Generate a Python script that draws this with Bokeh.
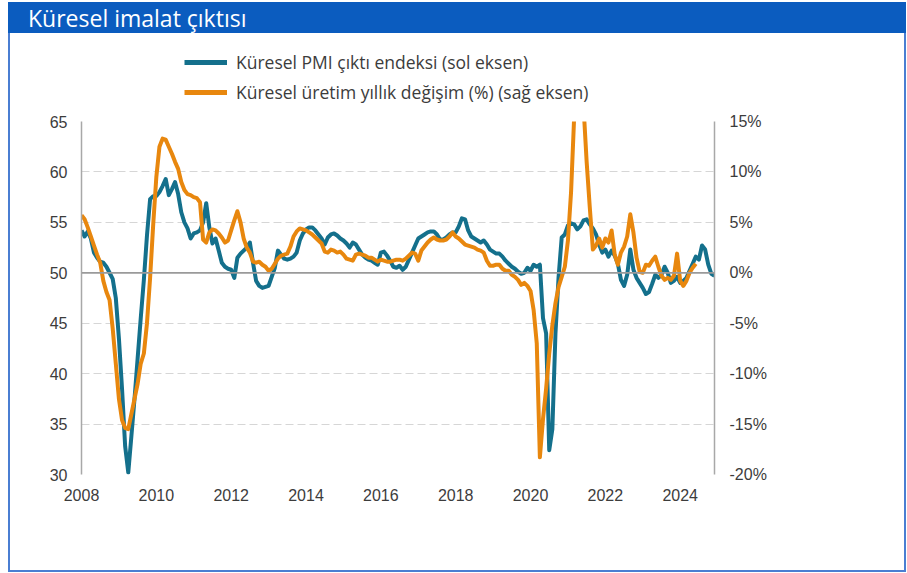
import numpy as np
from bokeh.plotting import figure
from bokeh.models import (Range1d, LinearAxis, FixedTicker, PrintfTickFormatter,
                          Span, Legend, LegendItem, Div, Spacer)
from bokeh.layouts import column, row
from bokeh.embed import file_html
from bokeh.resources import INLINE

# ---- Data (monthly, from Jan 2008) ----
title_text = "Küresel imalat çıktısı"
label_pmi = "Küresel PMI çıktı endeksi (sol eksen)"
label_prod = "Küresel üretim yıllık değişim (%) (sağ eksen)"
year_ticks = [2008, 2010, 2012, 2014, 2016, 2018, 2020, 2022, 2024]
left_ticks = [30, 35, 40, 45, 50, 55, 60, 65]
right_ticks = [-20, -15, -10, -5, 0, 5, 10, 15]

pmi_2008 = [54.2, 53.6, 54.1, 53.4, 52.0, 51.5, 51.1, 51.0, 50.6, 50.0, 49.4, 47.5]
pmi_2009 = [43.5, 38.5, 32.8, 30.2, 33.8, 37.5, 41.5, 45.5, 49.3, 53.7, 57.3, 57.6]
pmi_2010 = [57.6, 58.0, 58.6, 59.3, 57.7, 58.3, 59.0, 57.8, 56.0, 55.0, 54.4, 53.4]
pmi_2011 = [53.9, 54.0, 54.2, 55.0, 56.9, 54.5, 52.9, 53.4, 52.2, 51.0, 50.6, 50.4]
pmi_2012 = [50.3, 49.5, 51.5, 51.9, 52.2, 52.5, 53.0, 51.0, 49.2, 48.7, 48.5, 48.6]
pmi_2013 = [48.7, 49.6, 50.5, 52.2, 51.8, 51.4, 51.3, 51.4, 51.6, 52.0, 53.2, 53.9]
pmi_2014 = [54.3, 54.5, 54.5, 54.2, 53.8, 53.4, 52.8, 53.5, 53.8, 53.9, 53.7, 53.4]
pmi_2015 = [53.2, 52.9, 52.5, 53.0, 52.8, 52.3, 51.8, 51.5, 51.3, 51.2, 51.0, 50.8]
pmi_2016 = [52.0, 52.1, 51.7, 51.2, 50.6, 50.5, 50.7, 50.3, 50.6, 51.3, 52.0, 52.7]
pmi_2017 = [53.4, 53.6, 53.8, 54.0, 54.1, 54.1, 53.8, 53.3, 53.3, 53.5, 53.8, 54.0]
pmi_2018 = [54.0, 54.6, 55.4, 55.3, 54.2, 53.6, 53.4, 53.2, 53.0, 53.2, 52.8, 52.3]
pmi_2019 = [52.1, 51.9, 51.9, 51.6, 51.2, 50.9, 50.6, 50.4, 50.1, 49.9, 50.0, 50.5]
pmi_2020 = [50.2, 50.8, 50.6, 50.8, 45.5, 44.0, 32.4, 34.5, 44.0, 49.6, 53.5, 53.8]
pmi_2021 = [54.7, 54.9, 54.8, 54.3, 54.6, 55.2, 55.3, 54.8, 54.4, 53.8, 52.8, 52.0]
pmi_2022 = [52.3, 51.6, 52.2, 51.7, 50.9, 49.3, 48.7, 49.8, 52.3, 50.3, 49.5, 49.0]
pmi_2023 = [48.5, 47.9, 48.1, 48.9, 49.8, 49.5, 49.8, 50.6, 50.0, 49.0, 49.2, 49.6]
pmi_2024 = [49.0, 49.2, 49.5, 50.2, 50.9, 51.6, 51.3, 52.7, 52.3, 50.8, 49.9, 49.7]

prod_2008 = [5.7, 5.3, 4.5, 3.6, 2.7, 1.8, 1.0, -0.8, -1.9, -2.7, -5.5, -9.0]
prod_2009 = [-12.5, -14.6, -15.4, -15.5, -14.0, -12.5, -11.0, -9.0, -8.0, -5.0, -0.5, 4.8]
prod_2010 = [9.5, 12.5, 13.3, 13.2, 12.5, 11.8, 11.0, 10.3, 9.0, 8.2, 7.8, 7.7]
prod_2011 = [7.5, 7.4, 7.0, 3.3, 3.0, 4.0, 4.3, 4.2, 3.9, 3.5, 3.0, 3.2]
prod_2012 = [4.2, 5.2, 6.1, 5.0, 3.4, 2.5, 2.0, 1.1, 1.0, 1.1, 0.8, 0.6]
prod_2013 = [0.2, 0.4, 0.9, 1.4, 1.7, 1.8, 1.9, 2.6, 3.6, 4.1, 4.4, 4.3]
prod_2014 = [4.2, 4.0, 3.8, 3.5, 3.2, 2.9, 2.1, 2.0, 2.3, 2.2, 2.0, 2.1]
prod_2015 = [1.8, 1.4, 1.3, 1.2, 1.8, 1.9, 1.8, 1.7, 1.5, 1.5, 1.3, 1.1]
prod_2016 = [1.3, 1.2, 1.1, 1.1, 1.2, 1.3, 1.3, 1.2, 1.4, 1.7, 2.0, 1.9]
prod_2017 = [1.2, 2.2, 2.6, 3.0, 3.3, 3.5, 3.3, 3.2, 3.2, 3.3, 3.6, 4.0]
prod_2018 = [3.6, 3.4, 3.1, 2.8, 2.7, 2.6, 2.5, 2.3, 2.2, 2.0, 1.2, 0.7]
prod_2019 = [0.7, 0.8, 0.8, 0.4, 0.2, 0.2, -0.2, -0.4, -0.7, -1.2, -1.0, -1.3]
prod_2020 = [-1.8, -3.7, -7.0, -18.3, -14.5, -11.5, -8.0, -5.2, -3.0, -1.4, -0.4, 0.6]
prod_2021 = [3.2, 8.0, 15.5, 21.0, 20.0, 16.5, 11.0, 6.5, 2.3, 2.7, 3.4, 2.5]
prod_2022 = [3.4, 3.0, 4.2, 1.8, 0.8, 2.0, 2.6, 3.6, 5.8, 4.0, 1.5, 0.1]
prod_2023 = [0.0, 0.8, 0.7, 1.2, 1.6, 0.6, -0.3, -0.7, -0.5, -0.7, -0.3, 1.9]
prod_2024 = [-0.8, -1.3, -0.8, 0.0, 0.5, 0.9]

pmi = (pmi_2008 + pmi_2009 + pmi_2010 + pmi_2011 + pmi_2012 + pmi_2013 + pmi_2014 +
       pmi_2015 + pmi_2016 + pmi_2017 + pmi_2018 + pmi_2019 + pmi_2020 + pmi_2021 +
       pmi_2022 + pmi_2023 + pmi_2024)
prod = (prod_2008 + prod_2009 + prod_2010 + prod_2011 + prod_2012 + prod_2013 + prod_2014 +
        prod_2015 + prod_2016 + prod_2017 + prod_2018 + prod_2019 + prod_2020 + prod_2021 +
        prod_2022 + prod_2023 + prod_2024)

pmi_x = 2008 + np.arange(len(pmi)) / 12.0
prod_x = 2008 + np.arange(len(prod)) / 12.0

TEAL = "#14708C"
ORANGE = "#E8870E"
TXT = "#3c3c3c"
AXIS = "#a8a8a8"
BLUE = "#0B5CBF"
EDGE = "#4A7ED2"

BODY_W = 894
HEAD_H = 78
MAIN_H = 459

# ---- main chart ----
fig = figure(width=BODY_W, height=MAIN_H, output_backend="svg", toolbar_location=None,
             x_range=Range1d(2008, pmi_x[-1]), y_range=Range1d(30, 65),
             min_border_left=71, min_border_right=BODY_W - 71 - 633, min_border_top=10,
             min_border_bottom=96, margin=0)
fig.extra_y_ranges = {"pct": Range1d(-20, 15)}
fig.outline_line_color = None
fig.background_fill_color = "white"
fig.border_fill_color = "white"

fig.xgrid.grid_line_color = None
fig.ygrid.ticker = FixedTicker(ticks=left_ticks)
fig.ygrid.grid_line_color = "#d6d6d6"
fig.ygrid.grid_line_dash = "8 4"
fig.ygrid.grid_line_width = 1

zero = Span(location=50, dimension="width", line_color="#9a9a9a", line_width=1.8)
fig.add_layout(zero)

fig.xaxis.ticker = FixedTicker(ticks=year_ticks)
fig.xaxis.axis_line_color = None
fig.xaxis.major_tick_line_color = None
fig.xaxis.minor_tick_line_color = None
fig.xaxis.major_tick_out = 0
fig.xaxis.major_tick_in = 0
fig.xaxis.major_label_standoff = 14
fig.xaxis.major_label_text_font = "Liberation Sans"
fig.xaxis.major_label_text_font_size = "16px"
fig.xaxis.major_label_text_color = TXT

fig.yaxis.ticker = FixedTicker(ticks=left_ticks)
fig.yaxis.axis_line_color = AXIS
fig.yaxis.axis_line_width = 1.5
fig.yaxis.major_tick_line_color = None
fig.yaxis.minor_tick_line_color = None
fig.yaxis.major_tick_out = 0
fig.yaxis.major_tick_in = 0
fig.yaxis.major_label_standoff = 14
fig.yaxis.major_label_text_font = "Liberation Sans"
fig.yaxis.major_label_text_font_size = "16px"
fig.yaxis.major_label_text_color = TXT

right = LinearAxis(y_range_name="pct", ticker=FixedTicker(ticks=right_ticks),
                   formatter=PrintfTickFormatter(format="%d%%"))
right.axis_line_color = AXIS
right.axis_line_width = 1.5
right.major_tick_line_color = None
right.minor_tick_line_color = None
right.major_tick_out = 0
right.major_tick_in = 0
right.major_label_standoff = 15
right.major_label_text_font = "Liberation Sans"
right.major_label_text_font_size = "16px"
right.major_label_text_color = TXT
fig.add_layout(right, "right")

fig.line(pmi_x, pmi, line_color=TEAL, line_width=4, line_join="round")
fig.line(prod_x, prod, line_color=ORANGE, line_width=4, line_join="round",
         y_range_name="pct")

# ---- legend strip (own small figure, swatches only, no visible data) ----
head = figure(width=BODY_W, height=HEAD_H, output_backend="svg", toolbar_location=None,
              x_axis_type=None, y_axis_type=None, x_range=Range1d(0, 1),
              y_range=Range1d(0, 1), min_border=0, margin=0)
head.outline_line_color = None
head.xgrid.grid_line_color = None
head.ygrid.grid_line_color = None
nan2 = [float("nan"), float("nan")]
g_pmi = head.line(nan2, nan2, line_color=TEAL, line_width=5)
g_prod = head.line(nan2, nan2, line_color=ORANGE, line_width=5)
legend = Legend(items=[LegendItem(label=label_pmi, renderers=[g_pmi]),
                       LegendItem(label=label_prod, renderers=[g_prod])],
                location=(103, 7), orientation="vertical",
                padding=0, margin=0, spacing=6,
                glyph_width=43, glyph_height=22, label_height=22,
                label_standoff=9, border_line_color=None,
                background_fill_alpha=0,
                label_text_font="Open Sans", label_text_font_size="17.5px",
                label_text_color=TXT)
head.add_layout(legend, "center")

title = Div(text=title_text, width=BODY_W + 4, height=31, margin=0,
            styles={"background-color": BLUE, "color": "white",
                    "font-family": "Open Sans", "font-size": "23px",
                    "line-height": "32px", "padding-left": "20px",
                    "box-sizing": "border-box", "white-space": "nowrap"})

edge_l = Div(text="", width=2, height=HEAD_H + MAIN_H, margin=0,
             styles={"background-color": EDGE})
edge_r = Div(text="", width=2, height=HEAD_H + MAIN_H, margin=0,
             styles={"background-color": EDGE})
edge_b = Div(text="", width=BODY_W + 4, height=2, margin=0,
             styles={"background-color": EDGE})

inner = column(title,
               row(edge_l, column(head, fig, spacing=0, margin=0), edge_r,
                   spacing=0, margin=0),
               edge_b, spacing=0, margin=0)

p = column(Spacer(height=2, width=10, margin=0),
           row(Spacer(width=8, height=10, margin=0), inner, spacing=0, margin=0),
           spacing=0, margin=0)

open("out.html", "w").write(file_html(p, INLINE))
